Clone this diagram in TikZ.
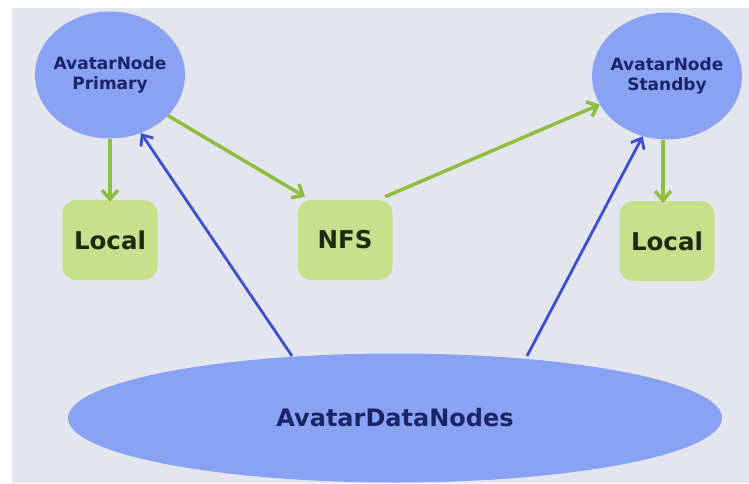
\documentclass[tikz,border=0pt]{standalone}
\usepackage{fontspec}
\setmainfont{DejaVu Sans}
\usetikzlibrary{arrows.meta,shapes.geometric}
\definecolor{panel}{HTML}{E4E6EF}
\definecolor{nodeblue}{HTML}{8AA2F4}
\definecolor{navy}{HTML}{1B2566}
\definecolor{boxgreen}{HTML}{C6E08C}
\definecolor{ink}{HTML}{1D2A12}
\definecolor{linkgreen}{HTML}{8DBE3E}
\definecolor{linkblue}{HTML}{3B4FCF}
% zero-width line so the label does not widen the ellipse around it
\newcommand{\ctrline}[1]{\makebox[0pt][c]{#1}}
\tikzset{
  avatar/.style={ellipse, fill=nodeblue, minimum width=150pt, minimum height=127pt,
    inner sep=0pt, text=navy, font=\bfseries\fontsize{17}{20}\selectfont, align=center},
  storebox/.style={rectangle, rounded corners=14pt, fill=boxgreen, minimum width=95pt,
    minimum height=80pt, text=ink, font=\bfseries\fontsize{24.5}{28}\selectfont},
  greenlink/.style={draw=linkgreen, line width=3.5pt,
    -{Straight Barb[length=9pt,width=16pt,line width=3.5pt]}},
  bluelink/.style={draw=linkblue, line width=2.8pt,
    -{Straight Barb[length=9pt,width=15pt,line width=2.8pt]}}
}
\begin{document}
\begin{tikzpicture}[x=1pt,y=-1pt]
  \useasboundingbox (0,0) rectangle (749,484);
  \fill[white] (0,0) rectangle (749,484);
  \fill[panel] (12,8) rectangle (749,483);

  % name nodes and their local stores
  \node[avatar] (primary) at (110,75) {\ctrline{AvatarNode}\\\ctrline{Primary}};
  \node[avatar] (standby) at (667,76) {\ctrline{AvatarNode}\\\ctrline{Standby}};
  \node[storebox] (localA) at (110,240) {Local};
  \node[storebox] (nfs) at (345,240) {NFS};
  \node[storebox] (localB) at (667,241) {Local};
  % data nodes report to both name nodes
  \node[ellipse, fill=nodeblue, minimum width=654pt, minimum height=129pt, inner sep=0pt,
        text=navy, font=\bfseries\fontsize{24}{28}\selectfont] (data) at (395,418) {AvatarDataNodes};

  \coordinate (dA) at (292,356);
  \coordinate (dB) at (527,356);

  \draw[greenlink] (primary.south) -- ([yshift=-2pt]localA.north);
  \draw[greenlink] (primary.-35) -- ([shift={(-40pt,3pt)}]nfs.north);
  \draw[greenlink] ([shift={(40pt,3pt)}]nfs.north) -- (standby.203);
  \draw[greenlink] ([xshift=-4pt]standby.south) -- ([xshift=-4pt,yshift=-2pt]localB.north);
  \draw[bluelink] (dA) -- (primary.-62);
  \draw[bluelink] (dB) -- (standby.-112);
\end{tikzpicture}
\end{document}
